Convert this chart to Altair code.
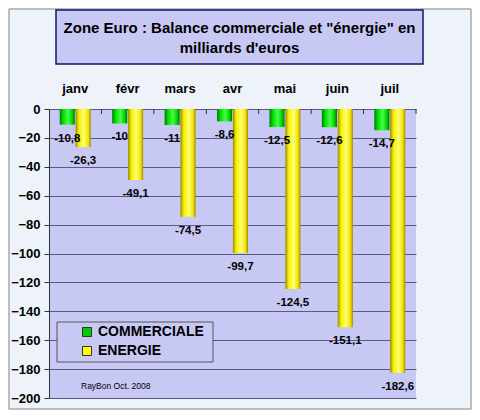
import altair as alt
import pandas as pd

# monthly balances, billions of euros (Euro zone, 2008)
months = ["janv", "févr", "mars", "avr", "mai", "juin", "juil"]
commerciale = [-10.8, -10, -11, -8.6, -12.5, -12.6, -14.7]
energie = [-26.3, -49.1, -74.5, -99.7, -124.5, -151.1, -182.6]
series = ["COMMERCIALE", "ENERGIE"]
series_colors = ["#00cc00", "#ffff00"]

title_lines = ['Zone Euro : Balance commerciale et "énergie" en', "milliards d'euros"]
credit = "RayBon Oct. 2008"

FONT = "Liberation Sans, Arial"
PLOT_FILL = "#c8c8f4"
PLOT_W, PLOT_H = 367, 289
PAD_INNER = 0.41


def frame(name, values):
    return pd.DataFrame({
        "mois": months,
        "serie": name,
        "valeur": values,
        # french decimal comma
        "label": [f"{v:g}".replace(".", ",") for v in values],
    })


com = frame(series[0], commerciale)
ene = frame(series[1], energie)
both = pd.concat([com, ene], ignore_index=True)
one = pd.DataFrame({"k": [0]})
cats = pd.DataFrame({"mois": months})

x_scale = alt.Scale(paddingInner=PAD_INNER, paddingOuter=PAD_INNER / 2)
x_axis = alt.Axis(
    orient="top", title=None, labelAngle=0, domain=False, ticks=False,
    labelPadding=17, labelBaseline="alphabetic",
    labelFont=FONT, labelFontSize=13, labelFontWeight="bold", labelColor="black",
)
x_enc = alt.X("mois:N", sort=months, scale=x_scale, axis=x_axis)
y_enc = alt.Y(
    "valeur:Q",
    scale=alt.Scale(domain=[-200, 0], nice=False, zero=True),
    axis=alt.Axis(
        values=list(range(-200, 1, 20)), title=None, grid=True,
        gridColor="#5a5a82", gridWidth=1,
        domainColor="#333333", tickColor="#333333", tickSize=5,
        labelPadding=4, labelFont=FONT, labelFontSize=13,
        labelFontWeight="bold", labelColor="black",
    ),
)
off_enc = alt.XOffset("serie:N", scale=alt.Scale(domain=series, paddingInner=0.05, paddingOuter=0))

green_grad = alt.LinearGradient(
    gradient="linear", x1=0, x2=1, y1=0, y2=0,
    stops=[
        alt.GradientStop(color="#007800", offset=0),
        alt.GradientStop(color="#00dd00", offset=0.22),
        alt.GradientStop(color="#44ff44", offset=0.55),
        alt.GradientStop(color="#00cc00", offset=0.85),
        alt.GradientStop(color="#006e00", offset=1),
    ],
)
yellow_grad = alt.LinearGradient(
    gradient="linear", x1=0, x2=1, y1=0, y2=0,
    stops=[
        alt.GradientStop(color="#9a8a00", offset=0),
        alt.GradientStop(color="#f4f000", offset=0.22),
        alt.GradientStop(color="#ffff70", offset=0.55),
        alt.GradientStop(color="#eee000", offset=0.85),
        alt.GradientStop(color="#9a8400", offset=1),
    ],
)

# frame around the whole picture
border = alt.Chart(one).mark_rect(fillOpacity=0, stroke="#8a8a8a", strokeWidth=1).encode(
    x=alt.value(-40), x2=alt.value(422), y=alt.value(-100), y2=alt.value(300),
)

# title box
title_box = alt.Chart(one).mark_rect(fill=PLOT_FILL, stroke="#14146a", strokeWidth=1.5).encode(
    x=alt.value(7), x2=alt.value(374), y=alt.value(-99), y2=alt.value(-45),
)
title1 = alt.Chart(one).mark_text(
    font=FONT, fontSize=15, fontWeight="bold", color="black", baseline="middle", align="center",
).encode(x=alt.value(190.5), y=alt.value(-81), text=alt.value(title_lines[0]))
title2 = alt.Chart(one).mark_text(
    font=FONT, fontSize=15, fontWeight="bold", color="black", baseline="middle", align="center",
).encode(x=alt.value(190.5), y=alt.value(-61), text=alt.value(title_lines[1]))

# small category ticks hanging from the zero line, at the end of each month slot
half_gap = PLOT_W / len(months) * PAD_INNER / 2
cat_ticks = alt.Chart(cats).mark_rule(color="#333333", strokeWidth=1, xOffset=half_gap).encode(
    x=alt.X("mois:N", sort=months, scale=x_scale, axis=x_axis, bandPosition=1),
    y=alt.value(0), y2=alt.value(5),
)

bars_c = alt.Chart(com).mark_bar(color=green_grad).encode(x=x_enc, y=y_enc, xOffset=off_enc)
bars_e = alt.Chart(ene).mark_bar(color=yellow_grad).encode(x=x_enc, y=y_enc, xOffset=off_enc)

labels = alt.Chart(both).mark_text(
    dy=14, font=FONT, fontSize=11.5, fontWeight="bold", color="black", baseline="middle",
).encode(x=x_enc, y=y_enc, xOffset=off_enc, text="label:N")

# legend box (the legend itself is drawn on top of it)
legend_box = alt.Chart(one).mark_rect(fill=PLOT_FILL, stroke="#555555", strokeWidth=1).encode(
    x=alt.value(8), x2=alt.value(164), y=alt.value(213), y2=alt.value(253),
)
legend_pts = alt.Chart(both).mark_square(opacity=0, size=81).encode(
    x=x_enc, y=y_enc, xOffset=off_enc,
    color=alt.Color(
        "serie:N",
        scale=alt.Scale(domain=series, range=series_colors),
        legend=alt.Legend(
            title=None, orient="none", legendX=31, legendY=216, padding=0,
            symbolType="square", symbolSize=81, symbolOpacity=1,
            symbolStrokeColor="#333333", symbolStrokeWidth=1,
            labelFont=FONT, labelFontSize=14, labelFontWeight="bold", labelColor="black",
            labelOffset=4, rowPadding=5,
        ),
    ),
)

credit_text = alt.Chart(one).mark_text(
    font=FONT, fontSize=8.5, color="black", align="left", baseline="middle",
).encode(x=alt.value(32), y=alt.value(277), text=alt.value(credit))

chart = (
    alt.layer(border, title_box, title1, title2, cat_ticks, bars_c, bars_e, labels,
              legend_box, legend_pts, credit_text)
    .properties(
        width=PLOT_W,
        height=PLOT_H,
        autosize=alt.AutoSizeParams(type="none"),
        padding={"left": 41, "top": 101, "right": 56, "bottom": 12},
        background="#eef3fa",
    )
    .configure_view(fill=PLOT_FILL, strokeWidth=0)
)

chart.save("out.html", embed_options={"renderer": "svg", "actions": False})
